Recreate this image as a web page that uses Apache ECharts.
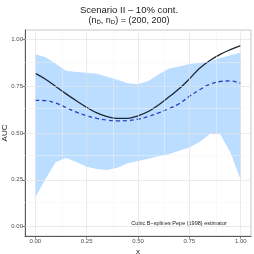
<!DOCTYPE html>
<html><head><meta charset="utf-8">
<script src="https://cdn.jsdelivr.net/npm/echarts@6/dist/echarts.min.js"></script>
<style>html,body{margin:0;padding:0;background:#fff}#c{width:254px;height:254px}</style>
</head><body><div id="c"></div>
<script>
const xs = [0,0.05,0.1,0.15,0.2,0.25,0.3,0.35,0.4,0.45,0.5,0.55,0.6,0.65,0.7,0.75,0.8,0.85,0.9,0.95,1];
const bandLower = [0.155,0.255,0.345,0.366,0.345,0.320,0.308,0.302,0.315,0.338,0.350,0.362,0.376,0.386,0.405,0.422,0.452,0.495,0.495,0.395,0.250];
const bandUpper = [0.920,0.905,0.870,0.832,0.826,0.822,0.817,0.800,0.785,0.765,0.760,0.778,0.812,0.843,0.855,0.868,0.874,0.882,0.900,0.915,0.930];
const trueAUC = [0.818,0.787,0.748,0.709,0.672,0.637,0.607,0.588,0.578,0.578,0.592,0.615,0.650,0.692,0.736,0.789,0.846,0.887,0.920,0.945,0.966];
const meanEstimate = [0.674,0.673,0.660,0.636,0.611,0.592,0.578,0.569,0.565,0.566,0.574,0.588,0.607,0.630,0.656,0.696,0.731,0.760,0.775,0.778,0.765];
const tickValues = [0,0.25,0.5,0.75,1];
const minorValues = [0.125,0.375,0.625,0.875];
const titleText = 'Scenario II \u2013 10% cont.';
const noteText = 'Cubic B\u2212splines Pepe (1998) estimator';

const font = 'Liberation Sans, Arial, sans-serif';
const chart = echarts.init(document.getElementById('c'), null, {renderer:'canvas'});

const gridLines = [];
minorValues.forEach(v => {
  gridLines.push({xAxis:v, lineStyle:{color:'#f2f2f2', width:0.5, type:'solid'}});
  gridLines.push({yAxis:v, lineStyle:{color:'#f2f2f2', width:0.5, type:'solid'}});
});
tickValues.forEach(v => {
  gridLines.push({xAxis:v, lineStyle:{color:'#e3e3e3', width:0.7, type:'solid'}});
  gridLines.push({yAxis:v, lineStyle:{color:'#e3e3e3', width:0.7, type:'solid'}});
});

const axisCommon = {
  type:'value', min:-0.05, max:1.05,
  splitLine:{show:false},
  axisLine:{show:true, onZero:false, lineStyle:{color:'#5a5a5a', width:1}},
  axisTick:{show:true, length:2.5, customValues:tickValues, lineStyle:{color:'#5a5a5a', width:0.8}},
  axisLabel:{customValues:tickValues, formatter:v=>v.toFixed(2), fontSize:6, color:'#4d4d4d', fontFamily:font, margin:2},
  nameLocation:'middle',
  nameMoveOverlap:false,
  nameTextStyle:{fontSize:8, color:'#1a1a1a', fontFamily:font}
};

const bandData = xs.map((x,i)=>[x,bandLower[i],bandUpper[i]]);

chart.setOption({
  animation:false,
  backgroundColor:'#ffffff',
  grid:{left:25, right:3, top:30, bottom:18, containLabel:false, outerBoundsMode:'none'},
  xAxis: Object.assign({}, axisCommon, {name:'x', nameGap:12}),
  yAxis: Object.assign({}, axisCommon, {name:'AUC', nameGap:16, nameRotate:90}),
  graphic:[
    {type:'rect', shape:{x:25, y:30, width:226, height:206}, style:{fill:'none', stroke:'#b8b8b8', lineWidth:0.8}, z:-1, silent:true},
    {type:'text', x:129, y:10, style:{text:titleText, fill:'#1a1a1a', font:'9.5px '+font, align:'center', verticalAlign:'middle'}},
    {type:'text', x:129, y:21, style:{
      text:'(n{s|D\u0304}, n{s|D}) = (200, 200)', fill:'#1a1a1a', font:'9px '+font, align:'center', verticalAlign:'middle',
      rich:{s:{fontSize:6, fontFamily:font, verticalAlign:'bottom', padding:[3,0,0,0], fill:'#1a1a1a'}}
    }},
    {type:'text', x:179, y:223, style:{text:noteText, fill:'#1a1a1a', font:'5.5px '+font, align:'center', verticalAlign:'middle'}}
  ],
  series:[
    {type:'line', data:[], z:1, silent:true,
     markLine:{silent:true, symbol:['none','none'], label:{show:false}, emphasis:{disabled:true}, data:gridLines}},
    {type:'custom', name:'band', data:bandData, z:2, silent:true,
     encode:{x:0, y:[1,2]},
     renderItem:function(params, api){
       if (params.dataIndex !== 0) return null;
       const top = [], bot = [];
       for (let i=0;i<bandData.length;i++){
         top.push(api.coord([bandData[i][0], bandData[i][2]]));
         bot.push(api.coord([bandData[i][0], bandData[i][1]]));
       }
       return {type:'polygon', shape:{points:top.concat(bot.reverse())},
               style:{fill:'rgba(30,144,255,0.3)', stroke:'none'}};
     }},
    {type:'line', name:'true', data:xs.map((x,i)=>[x,trueAUC[i]]), symbol:'none', smooth:0.4,
     lineStyle:{color:'#1b2636', width:1.3}, z:3},
    {type:'line', name:'mean', data:xs.map((x,i)=>[x,meanEstimate[i]]), symbol:'none', smooth:0.4,
     lineStyle:{color:'#2b3fbf', width:1.3, type:[4,3]}, z:4}
  ]
});
</script></body></html>
